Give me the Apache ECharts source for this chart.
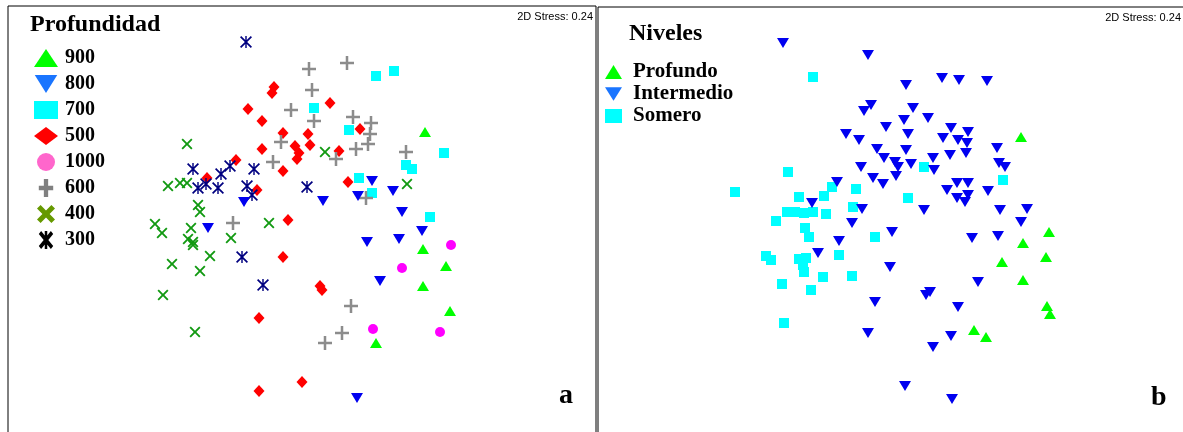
<!DOCTYPE html>
<html>
<head>
<meta charset="utf-8">
<script src="https://cdn.jsdelivr.net/npm/echarts@6/dist/echarts.min.js"></script>
<style>
html,body{margin:0;padding:0;background:#fff;}
#chart{width:1183px;height:432px;}
</style>
</head>
<body>
<div id="chart"></div>
<script>
// ---- Panel a: Profundidad (MDS coordinates, axis 1 / axis 2) ----
const p900 = [[425,132],[423,249],[446,266],[423,286],[450,311],[376,343]];
const p800 = [[244,202],[208,228],[323,201],[358,196],[372,181],[393,191],[402,212],[367,242],[399,239],[422,231],[380,281],[357,398]];
const p700 = [[376,76],[394,71],[314,108],[349,130],[444,153],[406,165],[412,169],[359,178],[372,193],[430,217]];
const p500 = [[274,87],[272,93],[248,109],[262,121],[330,103],[283,133],[308,134],[310,145],[295,146],[299,153],[297,159],[262,149],[283,171],[339,151],[360,129],[348,182],[236,160],[207,178],[257,190],[288,220],[283,257],[320,286],[322,290],[259,318],[302,382],[259,391]];
const p1000 = [[451,245],[402,268],[373,329],[440,332]];
const p600 = [[309,69],[347,63],[312,90],[291,110],[314,121],[353,117],[371,123],[370,134],[368,144],[356,149],[336,159],[281,142],[273,162],[406,152],[366,198],[233,223],[351,306],[342,333],[325,343]];
const p400 = [[187,144],[168,186],[180,183],[187,183],[198,205],[200,212],[155,224],[162,233],[191,228],[188,239],[193,242],[193,245],[231,238],[269,223],[210,256],[172,264],[200,271],[163,295],[195,332],[325,152],[407,184]];
const p300 = [[246,42],[193,169],[198,188],[206,184],[218,188],[221,174],[230,166],[254,169],[247,186],[252,195],[307,187],[242,257],[263,285]];
const depthNames = ['900','800','700','500','1000','600','400','300'];

// ---- Panel b: Niveles ----
const profundo = [[1021,137],[1049,232],[1023,243],[1046,257],[1002,262],[1023,280],[1047,306],[1050,314],[974,330],[986,337]];
const somero = [[813,77],[735,192],[788,172],[799,197],[824,196],[832,187],[856,189],[924,167],[908,198],[1003,180],[787,212],[795,212],[804,213],[813,212],[826,214],[853,207],[776,221],[805,228],[809,237],[875,237],[839,255],[766,256],[771,260],[799,259],[806,258],[803,265],[804,272],[823,277],[852,276],[782,284],[811,290],[784,323]];
const intermedio = [[783,43],[868,55],[871,105],[864,111],[886,127],[846,134],[859,140],[877,149],[884,158],[895,162],[898,167],[861,167],[873,178],[883,184],[837,182],[812,203],[862,209],[906,85],[942,78],[959,80],[987,81],[913,108],[904,120],[928,118],[951,128],[968,132],[908,134],[943,138],[958,140],[967,143],[906,150],[997,148],[966,153],[950,155],[933,158],[911,164],[934,170],[999,163],[1005,167],[896,176],[957,183],[968,183],[947,190],[988,191],[957,198],[968,195],[965,202],[924,210],[1000,210],[1027,209],[852,223],[839,241],[818,253],[892,232],[890,267],[875,302],[868,333],[1021,222],[972,238],[998,236],[978,282],[926,295],[930,292],[958,307],[951,336],[933,347],[905,386],[952,399]];
const levelNames = ['Profundo','Intermedio','Somero'];

const stressText = '2D Stress: 0.24';

// symbols
const DOWN = 'path://M0,0L2,0L1,1.6Z';
const PLUS = 'path://M4.1,0L5.9,0L5.9,4.1L10,4.1L10,5.9L5.9,5.9L5.9,10L4.1,10L4.1,5.9L0,5.9L0,4.1L4.1,4.1Z';
const XMARK = 'path://M0,1.2L1.2,0L5,3.8L8.8,0L10,1.2L6.2,5L10,8.8L8.8,10L5,6.2L1.2,10L0,8.8L3.8,5Z';
const STAR = 'path://M4.4,0L5.6,0L5.6,10L4.4,10Z M0,1L1,0L5,4L9,0L10,1L6,5L10,9L9,10L5,6L1,10L0,9L4,5Z';
const PLUS_L = 'path://M2.8,0L5.2,0L5.2,3.8L8,3.8L8,6.2L5.2,6.2L5.2,10L2.8,10L2.8,6.2L0,6.2L0,3.8L2.8,3.8Z';
const XMARK_L = 'path://M0,2L2,0L5,3L8,0L10,2L7,5L10,8L8,10L5,7L2,10L0,8L3,5Z';
const STAR_L = 'path://M3.3,0L4.7,0L4.7,10L3.3,10Z M0,1.6L1.3,0L4,3.4L6.7,0L8,1.6L5.3,5L8,8.4L6.7,10L4,6.6L1.3,10L0,8.4L2.7,5Z';

function sc(name, data, gi, symbol, size, color) {
  return {
    name: name, type: 'scatter', xAxisIndex: gi, yAxisIndex: gi,
    data: data, symbol: symbol, symbolSize: size, symbolKeepAspect: false,
    itemStyle: { color: color, opacity: 1 },
    emphasis: { disabled: true }, silent: true, clip: false
  };
}

const serif = 'Liberation Serif, Times New Roman, serif';
const titleStyle = { fontFamily: serif, fontWeight: 'bold', fontSize: 24, color: '#000' };
const stressStyle = { fontFamily: 'Liberation Sans, Arial, sans-serif', fontWeight: 'normal', fontSize: 11, color: '#000' };
const letterStyle = { fontFamily: serif, fontWeight: 'bold', fontSize: 28, color: '#000' };

const chart = echarts.init(document.getElementById('chart'), null, { renderer: 'canvas' });
chart.setOption({
  animation: false,
  backgroundColor: '#fff',
  title: [
    { text: 'Profundidad', left: 30, top: 13, padding: 0, textStyle: titleStyle },
    { text: 'Niveles', left: 629, top: 22, padding: 0, textStyle: titleStyle },
    { text: stressText, right: 590, top: 11, padding: 0, textStyle: stressStyle },
    { text: stressText, right: 2, top: 12, padding: 0, textStyle: stressStyle },
    { text: 'a', left: 559, top: 382, padding: 0, textStyle: letterStyle },
    { text: 'b', left: 1151, top: 384, padding: 0, textStyle: letterStyle }
  ],
  legend: [
    {
      data: [
        { name: depthNames[0], icon: 'triangle', itemStyle: { color: '#00ff00' } },
        { name: depthNames[1], icon: DOWN, itemStyle: { color: '#1a75ff' } },
        { name: depthNames[2], icon: 'rect', itemStyle: { color: '#00ffff' } },
        { name: depthNames[3], icon: 'diamond', itemStyle: { color: '#ff0000' } },
        { name: depthNames[4], icon: 'circle', itemStyle: { color: '#ff66cc' } },
        { name: depthNames[5], icon: PLUS_L, itemStyle: { color: '#808080' } },
        { name: depthNames[6], icon: XMARK_L, itemStyle: { color: '#669900' } },
        { name: depthNames[7], icon: STAR_L, itemStyle: { color: '#000000' } }
      ],
      orient: 'vertical', left: 34, top: 48, padding: 0,
      itemWidth: 24, itemHeight: 18, itemGap: 6, selectedMode: false,
      textStyle: { fontFamily: serif, fontWeight: 'bold', fontSize: 20, lineHeight: 20, color: '#000', padding: [0, 0, 0, 2] }
    },
    {
      data: [
        { name: levelNames[0], icon: 'triangle', itemStyle: { color: '#00ff00' } },
        { name: levelNames[1], icon: DOWN, itemStyle: { color: '#1a75ff' } },
        { name: levelNames[2], icon: 'rect', itemStyle: { color: '#00ffff' } }
      ],
      orient: 'vertical', left: 605, top: 61, padding: 0,
      itemWidth: 17, itemHeight: 14, itemGap: 0, selectedMode: false,
      textStyle: { fontFamily: serif, fontWeight: 'bold', fontSize: 21, lineHeight: 22, color: '#000', padding: [0, 0, 0, 6] }
    }
  ],
  grid: [
    { left: 8, top: 6, width: 588, height: 440, outerBoundsMode: 'none', show: true, borderColor: '#000', borderWidth: 1, backgroundColor: 'transparent' },
    { left: 598, top: 7, width: 600, height: 440, outerBoundsMode: 'none', show: true, borderColor: '#000', borderWidth: 1, backgroundColor: 'transparent' }
  ],
  xAxis: [
    { type: 'value', gridIndex: 0, min: 8, max: 596, show: false },
    { type: 'value', gridIndex: 1, min: 598, max: 1198, show: false }
  ],
  yAxis: [
    { type: 'value', gridIndex: 0, min: 6, max: 446, inverse: true, show: false },
    { type: 'value', gridIndex: 1, min: 7, max: 447, inverse: true, show: false }
  ],
  series: [
    sc(depthNames[2], p700, 0, 'rect', 10, '#00ffff'),
    sc(depthNames[3], p500, 0, 'diamond', [11, 12], '#ff0000'),
    sc(depthNames[4], p1000, 0, 'circle', 10, '#ff00ff'),
    sc(depthNames[5], p600, 0, PLUS, 14, '#8c8c8c'),
    sc(depthNames[6], p400, 0, XMARK, 11, '#119911'),
    sc(depthNames[7], p300, 0, STAR, 12, '#000080'),
    sc(depthNames[1], p800, 0, DOWN, [12, 10], '#0000f0'),
    sc(depthNames[0], p900, 0, 'triangle', [12, 10], '#00ff00'),
    sc(levelNames[2], somero, 1, 'rect', 10, '#00ffff'),
    sc(levelNames[1], intermedio, 1, DOWN, [12, 10], '#0000f0'),
    sc(levelNames[0], profundo, 1, 'triangle', [12, 10], '#00ff00')
  ]
});
</script>
</body>
</html>
